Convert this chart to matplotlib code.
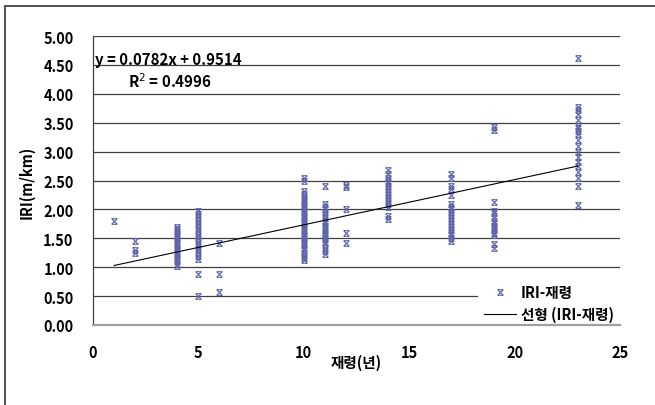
import matplotlib
matplotlib.use("Agg")
import matplotlib.pyplot as plt
from matplotlib.path import Path
from matplotlib.patches import Rectangle
from matplotlib.lines import Line2D

plt.rcParams['font.family'] = ['Noto Sans CJK KR', 'DejaVu Sans']

# ---- data ----
ages = [1, 2, 4, 5, 6, 10, 11, 12, 14, 17, 19, 23]
iri_1 = [1.80]
iri_2 = [1.45, 1.30, 1.25]
iri_4 = [1.02, 1.06, 1.10, 1.14, 1.18, 1.22, 1.26, 1.30, 1.34, 1.38, 1.42, 1.46,
         1.50, 1.54, 1.58, 1.62, 1.66, 1.70]
iri_5 = [0.50, 0.88, 1.15, 1.20, 1.26, 1.32, 1.38, 1.44, 1.50, 1.56, 1.62, 1.68,
         1.74, 1.80, 1.86, 1.92, 1.98]
iri_6 = [0.57, 0.88, 1.42]
iri_10 = [1.12, 1.16, 1.20, 1.25, 1.30, 1.34, 1.38, 1.42, 1.46, 1.50, 1.54, 1.58,
          1.62, 1.66, 1.70, 1.74, 1.78, 1.82, 1.86, 1.90, 1.94, 1.98, 2.02, 2.06,
          2.10, 2.14, 2.18, 2.22, 2.27, 2.32, 2.50, 2.55]
iri_11 = [1.22, 1.28, 1.34, 1.40, 1.44, 1.48, 1.52, 1.56, 1.60, 1.64, 1.68, 1.72,
          1.76, 1.80, 1.85, 1.90, 1.95, 2.00, 2.05, 2.10, 2.40]
iri_12 = [1.42, 1.60, 2.00, 2.38, 2.43]
iri_14 = [1.83, 1.88, 2.05, 2.10, 2.15, 2.20, 2.25, 2.30, 2.35, 2.40, 2.45, 2.50,
          2.55, 2.62, 2.68]
iri_17 = [1.45, 1.50, 1.55, 1.60, 1.65, 1.70, 1.75, 1.80, 1.85, 1.90, 1.95, 2.00,
          2.05, 2.10, 2.25, 2.35, 2.40, 2.55, 2.62]
iri_19 = [1.33, 1.40, 1.56, 1.60, 1.64, 1.68, 1.72, 1.76, 1.80, 1.85, 1.93, 1.98,
          2.12, 3.37, 3.42]
iri_23 = [2.07, 2.40, 2.55, 2.65, 2.75, 2.82, 2.90, 3.00, 3.10, 3.20, 3.30, 3.35,
          3.40, 3.45, 3.55, 3.65, 3.72, 3.78, 4.62]
iri_groups = [iri_1, iri_2, iri_4, iri_5, iri_6, iri_10, iri_11, iri_12, iri_14,
              iri_17, iri_19, iri_23]

slope = 0.0782
intercept = 0.9514
r_squared = 0.4996

x_ticks = [0, 5, 10, 15, 20, 25]
y_ticks = [0.0, 0.5, 1.0, 1.5, 2.0, 2.5, 3.0, 3.5, 4.0, 4.5, 5.0]

# ---- figure ----
fig = plt.figure(figsize=(6.55, 4.06), dpi=100)
ax = fig.add_axes([93/655, 80/406, (620-93)/655, (326-37)/406])

star = Path([(-1, -1), (1, 1), (-1, 1), (1, -1), (-1, 1), (1, 1), (-1, -1), (1, -1)],
            [Path.MOVETO, Path.LINETO, Path.MOVETO, Path.LINETO,
             Path.MOVETO, Path.LINETO, Path.MOVETO, Path.LINETO])
mcolor = '#5f63aa'

xs, ys = [], []
for a, g in zip(ages, iri_groups):
    xs += [a] * len(g)
    ys += g
ax.plot(xs, ys, linestyle='none', marker=star, markersize=4.0,
        markeredgewidth=0.8, color=mcolor, zorder=3)

xl = [min(ages), max(ages)]
ax.plot(xl, [slope * v + intercept for v in xl], color='black', lw=0.8, zorder=4)

ax.set_xlim(0, 25)
ax.set_ylim(0, 5)
ax.set_xticks(x_ticks)
ax.set_yticks(y_ticks)
ax.set_yticklabels([f"{v:.2f}" for v in y_ticks])
ax.tick_params(axis='both', length=0, labelsize=10.5)
ax.tick_params(axis='x', pad=14)
ax.tick_params(axis='y', pad=14)
for lab in ax.get_xticklabels() + ax.get_yticklabels():
    lab.set_fontweight('bold')

ax.set_axisbelow(True)
ax.grid(axis='y', color='#404040', lw=0.9)
for s in ['top', 'right']:
    ax.spines[s].set_visible(False)
ax.spines['left'].set_color('#404040')
ax.spines['left'].set_linewidth(0.9)
ax.spines['bottom'].set_color('#a0a0a0')
ax.spines['bottom'].set_linewidth(1.6)

fig.text(27/655, 1 - 182/406, 'IRI(m/km)', rotation=90, ha='center', va='center',
         fontsize=10.5, fontweight='bold')
fig.text(356/655, 1 - 363/406, '재령(년)', ha='center', va='center',
         fontsize=10.5, fontweight='bold')

# regression equation
fig.text(95/655, 1 - 60/406, f"y = {slope}x + {intercept}", ha='left', va='center',
         fontsize=10.8, fontweight='bold')
fig.text(128/655, 1 - 82/406, f"R$^2$ = {r_squared}", ha='left', va='center',
         fontsize=10.8, fontweight='bold')

# legend area (white box covering grid)
fig.patches.append(Rectangle((478/655, 1 - 324/406), 170/655, 48/406,
                             transform=fig.transFigure, facecolor='white',
                             edgecolor='none', zorder=1))
h1 = Line2D([], [], linestyle='none', marker=star, markersize=4.0,
            markeredgewidth=0.8, color=mcolor)
h2 = Line2D([], [], color='black', lw=0.8)
fig.legend([h1, h2], ['IRI-재령', '선형 (IRI-재령)'], loc='center left',
           bbox_to_anchor=(477/655, 1 - 304/406), frameon=False,
           prop={'size': 10.5, 'weight': 'bold'}, handlelength=2.2,
           handletextpad=0.3, labelspacing=0.4, borderpad=0)

# outer border
fig.patches.append(Rectangle((5/655, -0.1), 1.2, 1.1 - 7/406,
                             transform=fig.transFigure, facecolor='none',
                             edgecolor='#404040', lw=1.3, zorder=0))

fig.savefig('out.png', dpi=100)
